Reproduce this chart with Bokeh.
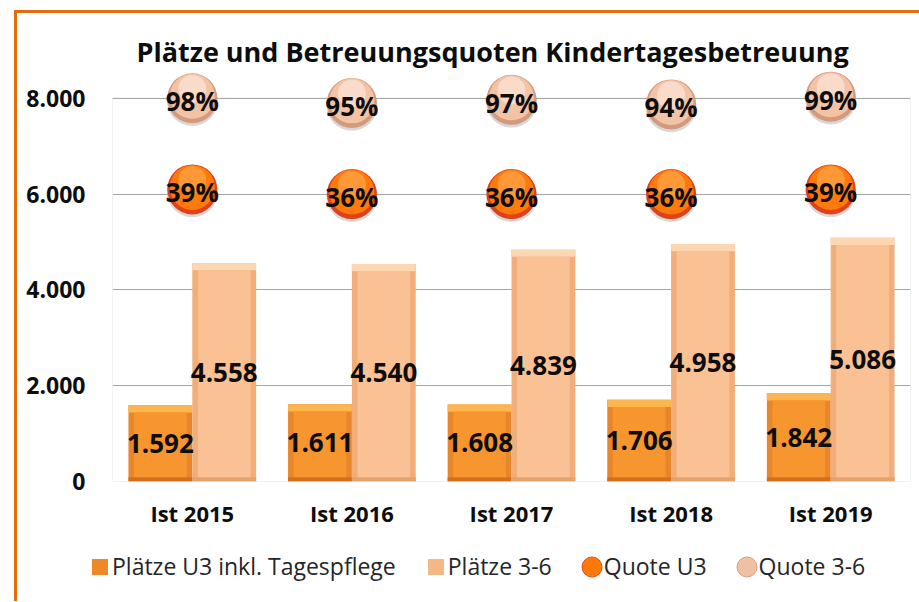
import numpy as np
from bokeh.plotting import figure
from bokeh.layouts import column
from bokeh.models import (ColumnDataSource, Range1d, FixedTicker, Legend, LegendItem,
                          BoxAnnotation)
from bokeh.transform import dodge
from bokeh.core.properties import value
from bokeh.embed import file_html
from bokeh.resources import INLINE

# ---------------- data ----------------
categories = ["Ist 2015", "Ist 2016", "Ist 2017", "Ist 2018", "Ist 2019"]
plaetze_u3 = [1592, 1611, 1608, 1706, 1842]
plaetze_3_6 = [4558, 4540, 4839, 4958, 5086]
quote_u3 = [39, 36, 36, 36, 39]
quote_3_6 = [98, 95, 97, 94, 99]
series_names = ["Plätze U3 inkl. Tagespflege", "Plätze 3-6", "Quote U3", "Quote 3-6"]
y_tick_values = [0, 2000, 4000, 6000, 8000]
y_tick_labels = ["0", "2.000", "4.000", "6.000", "8.000"]
title_text = "Plätze und Betreuungsquoten Kindertagesbetreuung"

# ---------------- styling constants ----------------
FONT = "Open Sans"
Y_TOP = 8600            # range extended so bubbles are not clipped
Q_START, Q_SPAN = -150, 248 * Y_TOP / 8000   # hidden secondary scale for the quotes
BAR_W = 0.4
TOP_BEVEL = 150
BOT_BEVEL = 90
SIDE_INSET = 0.07

def fmt(v):
    return f"{v:,}".replace(",", ".")

src = ColumnDataSource(dict(
    cat=categories,
    u3=plaetze_u3,
    k36=plaetze_3_6,
    u3_mid=[v / 2 for v in plaetze_u3],
    k36_mid=[v / 2 for v in plaetze_3_6],
    u3_strip=[v - TOP_BEVEL for v in plaetze_u3],
    k36_strip=[v - TOP_BEVEL for v in plaetze_3_6],
    u3_lbl=[fmt(v) for v in plaetze_u3],
    k36_lbl=[fmt(v) for v in plaetze_3_6],
    qu3=quote_u3,
    q36=quote_3_6,
    qu3_hi1=[q + 1.3 for q in quote_u3],
    q36_hi1=[q + 1.3 for q in quote_3_6],
    qu3_hi2=[q + 6.0 for q in quote_u3],
    q36_hi2=[q + 6.0 for q in quote_3_6],
    qu3_sh=[q - 1.5 for q in quote_u3],
    q36_sh=[q - 1.5 for q in quote_3_6],
    qu3_lbl=[f"{q}%" for q in quote_u3],
    q36_lbl=[f"{q}%" for q in quote_3_6],
))

p = figure(x_range=categories, y_range=Range1d(0, Y_TOP),
           width=902, height=528, output_backend="svg", toolbar_location=None,
           min_border_left=95, min_border_right=9, min_border_top=56, min_border_bottom=60)
p.frame_align = False
p.extra_y_ranges = {"quote": Range1d(Q_START, Q_START + Q_SPAN)}
p.border_fill_color = "white"
p.background_fill_color = "white"
p.outline_line_color = None

# plot area border
p.add_layout(BoxAnnotation(top=8000, bottom=0, fill_alpha=0, line_color="#a6a6a6",
                           line_width=1, level="underlay"))

# grid / axes
p.xgrid.grid_line_color = None
p.ygrid.grid_line_color = "#a6a6a6"
p.ygrid.ticker = FixedTicker(ticks=y_tick_values)
p.yaxis.ticker = FixedTicker(ticks=y_tick_values)
p.yaxis.major_label_overrides = {t: l for t, l in zip(y_tick_values, y_tick_labels)}
for ax in (p.xaxis[0], p.yaxis[0]):
    ax.axis_line_color = None
    ax.major_tick_line_color = None
    ax.minor_tick_line_color = None
    ax.major_label_text_font = FONT
    ax.major_label_text_font_style = "bold"
    ax.major_label_text_color = "#0d0d0d"
p.yaxis.major_label_text_font_size = "23px"
p.xaxis.major_label_text_font_size = "22px"
p.yaxis.major_label_standoff = 21
p.xaxis.major_label_standoff = 10

# title
p.title.text = title_text
p.title.text_font = FONT
p.title.text_font_size = "27px"
p.title.text_font_style = "bold"
p.title.text_color = "#0d0d0d"
p.title.align = "left"
p.title.offset = 24
p.title.standoff = 0

# ---------------- bars with bevel ----------------
def bevel_bar(field, strip, offset, side, topc, botc, face):
    x = dodge("cat", offset, range=p.x_range)
    p.vbar(x=x, top=field, bottom=0, width=BAR_W, source=src, fill_color=side, line_color=None)
    p.vbar(x=x, top=field, bottom=strip, width=BAR_W, source=src, fill_color=topc, line_color=None)
    p.vbar(x=x, top=BOT_BEVEL, bottom=0, width=BAR_W, source=src, fill_color=botc, line_color=None)
    p.vbar(x=x, top=strip, bottom=BOT_BEVEL, width=BAR_W - SIDE_INSET, source=src,
           fill_color=face, line_color=None)

bevel_bar("u3", "u3_strip", -0.2, "#e8862a", "#fdb550", "#d36e1c", "#f7952f")
bevel_bar("k36", "k36_strip", 0.2, "#efae7a", "#fdd6b2", "#e4a26e", "#fac294")

for field, off in (("u3_lbl", -0.2), ("k36_lbl", 0.2)):
    p.text(x=dodge("cat", off, range=p.x_range), y=field.replace("_lbl", "_mid"), text=field,
           source=src, text_font=value(FONT), text_font_size="26px", text_font_style="bold",
           text_align="center", text_baseline="middle", text_color="#0d0d0d")

# ---------------- bubbles ----------------
def bubble(base, hi1, hi2, sh, c_rim, c_mid, c_hi):
    kw = dict(x="cat", source=src, y_range_name="quote", line_color=None)
    p.scatter(y=sh, size=51, fill_color="#7f7f7f", fill_alpha=0.3, **kw)
    p.scatter(y=base, size=50, fill_color=c_rim, **kw)
    p.scatter(y=hi1, size=45, fill_color=c_mid, **kw)
    p.scatter(y=hi2, size=28, fill_color=c_hi, fill_alpha=0.65, **kw)

bubble("qu3", "qu3_hi1", "qu3_hi2", "qu3_sh", "#e0401a", "#ff7a0a", "#ffab50")
bubble("q36", "q36_hi1", "q36_hi2", "q36_sh", "#d49a7e", "#f3c3a6", "#fde8dc")

for field, yf in (("qu3_lbl", "qu3"), ("q36_lbl", "q36")):
    p.text(x="cat", y=yf, text=field, source=src, y_range_name="quote",
           text_font=value(FONT), text_font_size="26px", text_font_style="bold",
           text_align="center", text_baseline="middle", y_offset=3, text_color="#0d0d0d")

# ---------------- legend (own strip below the chart) ----------------
lg = figure(width=902, height=60, x_range=Range1d(0, 1), y_range=Range1d(0, 1),
            x_axis_location=None, y_axis_location=None,
            min_border_left=70, min_border_right=0, min_border_top=0, min_border_bottom=10,
            output_backend="svg", toolbar_location=None)
lg.frame_align = False
lg.outline_line_color = None
lg.border_fill_color = "white"
lg.background_fill_color = "white"
lg.grid.visible = False
nan_src = ColumnDataSource(dict(x=[0.5], y=[np.nan]))
r1 = lg.vbar(x="x", top="y", width=0.01, source=nan_src, fill_color="#ee8a26",
             line_color="white", line_width=4)
r2 = lg.vbar(x="x", top="y", width=0.01, source=nan_src, fill_color="#f2b888",
             line_color="white", line_width=4)
r3 = lg.ellipse(x="x", y="y", width=20, height=20, width_units="screen",
                height_units="screen", source=nan_src, fill_color="#ff780a",
                line_color="#e2501a", line_width=1)
r4 = lg.ellipse(x="x", y="y", width=20, height=20, width_units="screen",
                height_units="screen", source=nan_src, fill_color="#f0c0a4",
                line_color="#d9a080", line_width=1)
legend = Legend(items=[LegendItem(label=n, renderers=[r]) for n, r in
                       zip(series_names, [r1, r2, r3, r4])],
                orientation="horizontal", location="center_left",
                glyph_width=25, glyph_height=25, label_standoff=0, spacing=27,
                padding=0, margin=0, border_line_color=None, background_fill_alpha=0,
                label_text_font=FONT, label_text_font_size="23px",
                label_text_color="#262626")
lg.add_layout(legend)

layout = column(p, lg, spacing=0)
layout.styles = {"position": "relative", "left": "14px", "top": "10px",
                 "border-left": "3px solid #E46C0A", "border-top": "3px solid #E46C0A"}

open("out.html", "w").write(file_html(layout, INLINE))
